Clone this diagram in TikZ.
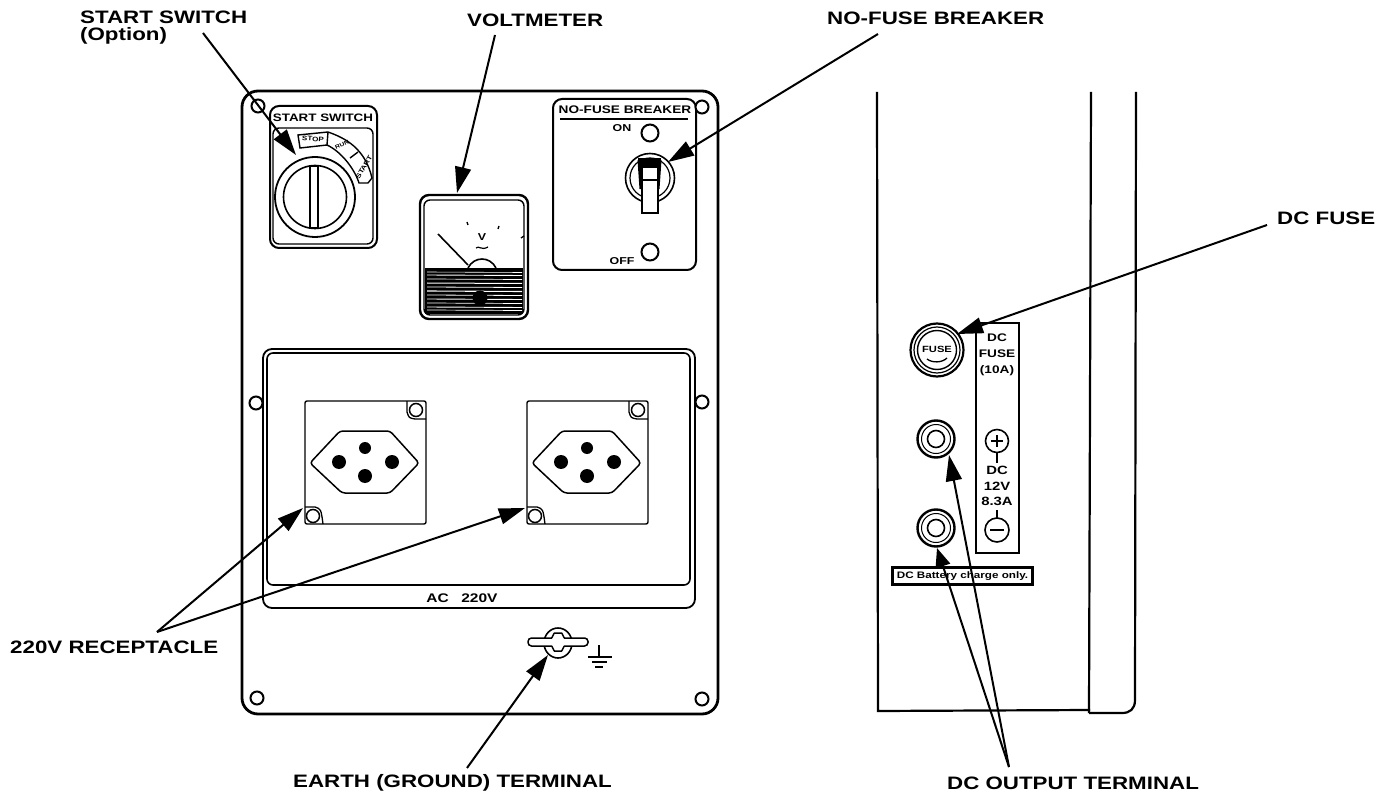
\documentclass[tikz,border=0pt]{standalone}
\usepackage{fontspec}
\setmainfont[FakeStretch=1.24]{Liberation Sans}
\usetikzlibrary{arrows.meta}
\tikzset{
  x=1pt,y=-1pt,
  lab/.style={font=\fontsize{18}{17}\selectfont\bfseries,inner sep=0pt,text=black},
  tiny/.style={font=\fontsize{10}{11}\selectfont\bfseries,inner sep=0pt,align=center},
  hole/.style={circle,draw,line width=2pt,minimum size=13pt,inner sep=0pt,fill=white},
  pin/.style={circle,fill=black,inner sep=0pt},
  thick1/.style={line width=2.8pt},
  thin1/.style={line width=1.4pt},
  leader/.style={line width=2pt,-{Triangle[length=26pt,width=16pt]}},
}
\begin{document}
\begin{tikzpicture}
\useasboundingbox (0,0) rectangle (1390,794);
% Panel
\draw[thick1,rounded corners=16pt] (242,91) rectangle (718,714);
% start switch
\draw[line width=2pt,rounded corners=9pt] (270,106) rectangle (377,248);
\draw[thin1,rounded corners=6pt] (273,128) rectangle (373,244);
\node[tiny] (startlabel) at (323,118) {\fontsize{10.8}{12}\selectfont START SWITCH};
\draw[thin1,fill=white] (298,135) -- (328,132) .. controls (345,138) and (365,148) .. (372,178) -- (368,183) -- (359,183) .. controls (355,170) and (342,152) .. (327,145) -- (300,148) -- cycle;
\draw[thin1] (328,132) -- (327,145) (358,152) -- (350,158);
\node[tiny,rotate=-4] (stop) at (313,139) {\fontsize{6.5}{7}\selectfont STOP};
\node[tiny,rotate=25] (run) at (342,145) {\fontsize{5.5}{6}\selectfont RUN};
\node[tiny,rotate=60] (start) at (364,167) {\fontsize{6.5}{7}\selectfont START};
\node[circle,draw,line width=1.8pt,minimum size=80pt,inner sep=0pt,fill=white] (knob) at (315,197) {};
\node[circle,draw,line width=1.6pt,minimum size=63pt,inner sep=0pt] (knobin) at (315,197) {};
\draw[thin1,fill=white] (310,166) rectangle (318,228);
\node[hole] (h1) at (258,106) {};
% voltmeter
\draw[line width=2.4pt,rounded corners=9pt] (420,195) rectangle (528,319);
\draw[thin1,rounded corners=6pt] (424,200) rectangle (524,315);
\fill (425,268) rectangle (523,314);
\foreach \y/\w in {272/.6,275/.9,279/.7,283/1,287/.8,291/1.1,295/.8,299/.9,303/.7,307/.9,310/.7}{\draw[white,line width=\w pt] (427,\y) -- (522,\y+.5);}
\node[circle,fill=black,minimum size=15pt,inner sep=0pt] (vknob) at (480,298) {};
\draw[line width=1.6pt] (438,234) -- (468,265);
\draw[line width=1.6pt] (468,268) .. controls (474,256) and (490,256) .. (496,268);
\node[tiny] (v) at (482,237) {\fontsize{10}{10}\selectfont V};
\draw[line width=1.2pt] (476,248) .. controls (479,245) and (481,251) .. (488,247);
\draw[line width=1.3pt] (467,222) -- (468,225) (499,226) -- (498,229) (524,236) -- (521,238);
% breaker
\draw[line width=2pt,rounded corners=9pt] (553,99) rectangle (696,270);
\node[tiny] (nfb) at (625,110) {\fontsize{11}{12}\selectfont NO-FUSE BREAKER};
\draw[line width=1.5pt] (560,119) -- (688,119);
\node[tiny] (on) at (622,128) {ON};
\node[hole,minimum size=17pt] (onh) at (650,133) {};
\node[tiny] (off) at (622,261) {OFF};
\node[hole,minimum size=17pt] (offh) at (650,252) {};
\node[hole] (h2) at (702,107) {};
\node[circle,draw,line width=1.6pt,minimum size=49pt,inner sep=0pt] (sw) at (650,178) {};
\node[circle,draw,line width=1.2pt,minimum size=40pt,inner sep=0pt] (sw2) at (650,178) {};
\fill (638,158) -- (661,158) -- (661,167) -- (638,167) -- cycle;
\draw[line width=3pt] (639,160) -- (641,189) (660,160) -- (658,189);
\draw[line width=1.8pt,fill=white] (642,167) -- (658,167) -- (658,213) -- (642,213) -- cycle;
\draw[line width=1.4pt] (642,180) -- (658,180);
% receptacle box
\draw[line width=1.8pt,rounded corners=9pt] (263,349) rectangle (695,608);
\draw[line width=1.6pt,rounded corners=6pt] (267,353) rectangle (690,585);
\node[tiny] (ac) at (462,598) {\fontsize{12.5}{13}\selectfont AC\hspace{1em}220V};
\foreach \n/\x in {a/0,b/222}{
  \begin{scope}[xshift=\x pt]
  \draw[line width=1.4pt,rounded corners=2pt] (305,401) rectangle (426,524);
  \draw[line width=1.3pt] (407,401) -- (407,412) .. controls (409,418) .. (415,419) -- (426,419);
  \node[circle,draw,line width=1.5pt,minimum size=13pt,inner sep=0pt,fill=white] (\n tr) at (416,410) {};
  \draw[line width=1.3pt] (305,507) -- (315,507) .. controls (321,509) .. (323,524);
  \node[circle,draw,line width=1.5pt,minimum size=13pt,inner sep=0pt,fill=white] (\n bl) at (313,516) {};
  \draw[line width=1.5pt,rounded corners=3pt] (310,463) -- (340,431) -- (390,431) -- (419,463) -- (390,493) -- (342,493) -- cycle;
  \node[pin,minimum size=14pt] (\n l) at (339,462) {};
  \node[pin,minimum size=14pt] (\n r) at (392,462) {};
  \node[pin,minimum size=12pt] (\n t) at (365,448) {};
  \node[pin,minimum size=14pt] (\n d) at (365,476) {};
  \end{scope}
}
% corner holes
\node[hole] (h3) at (256,403) {};
\node[hole] (h4) at (702,402) {};
\node[hole] (h5) at (257,698) {};
\node[hole] (h6) at (702,699) {};
% ground
\draw[line width=1.6pt] (558,643) ellipse (14pt and 15pt);
\draw[line width=1.5pt,fill=white,rounded corners=3.5pt] (528,638) -- (548,638) .. controls (552,638) and (554,633) .. (558,633) .. controls (562,633) and (564,638) .. (568,638) -- (588,638) -- (588,646) -- (568,646) .. controls (564,646) and (562,651) .. (558,651) .. controls (554,651) and (552,646) .. (548,646) -- (528,646) -- cycle;
\draw[line width=1.3pt] (599,645) -- (599,657) (588,657) -- (612,657) (592,662) -- (607,662) (595,667) -- (603,667);
% side view
\draw[line width=2.2pt] (877,92) -- (878,711) -- (1090,710);
\draw[line width=2.2pt] (1091,92) -- (1089,713);
\draw[line width=2.2pt] (1136,92) -- (1135,700) .. controls (1135,709) and (1130,713) .. (1122,713) -- (1089,713);
% fuse
\node[circle,draw,line width=2.2pt,minimum size=53pt,inner sep=0pt] (fuse) at (937,350) {};
\node[circle,draw,line width=1.2pt,minimum size=46pt,inner sep=0pt] (fuse2) at (937,350) {};
\node[circle,draw,line width=1.4pt,minimum size=39pt,inner sep=0pt] (fuse3) at (937,350) {};
\node[tiny] (fusetxt) at (937,349) {\fontsize{9}{10}\selectfont FUSE};
\draw[line width=1.3pt] (927,359) .. controls (932,363) and (942,363) .. (947,358);
% DC plate
\draw[line width=1.8pt] (976,323) rectangle (1019,553);
\node[tiny,align=center,font=\fontsize{11}{16}\selectfont\bfseries] (dcf) at (997,355) {DC\\FUSE\\(10A)};
\node[circle,draw,line width=1.6pt,minimum size=23pt,inner sep=0pt] (plus) at (997,441) {};
\draw[line width=1.8pt] (991,441) -- (1003,441) (997,435) -- (997,447);
\node[tiny,align=center,font=\fontsize{12}{16}\selectfont\bfseries] (dc12) at (997,486) {DC\\12V\\[-1.5pt]8.3A};
\node[circle,draw,line width=1.6pt,minimum size=24pt,inner sep=0pt] (minus) at (997,530) {};
\draw[line width=1.8pt] (990,530) -- (1004,530);
\draw[line width=1.3pt] (997,453) -- (997,463) (997,510) -- (997,518);
% DC terminals
\foreach \n/\y in {t1/439,t2/528}{
  \node[circle,draw,line width=2.4pt,minimum size=37pt,inner sep=0pt] (\n) at (936,\y) {};
  \node[circle,draw,line width=1pt,minimum size=29pt,inner sep=0pt] (\n b) at (936,\y) {};
  \node[circle,draw,line width=1.6pt,minimum size=17pt,inner sep=0pt] (\n c) at (936,\y) {};
}
\node[draw,line width=2.2pt,inner sep=0pt,font=\fontsize{9.4}{10}\selectfont\bfseries,minimum width=140pt,minimum height=17pt,fill=white] (batt) at (962.5,576) {DC Battery charge only.};
% labels
\node[lab,align=left,anchor=west] (l1) at (80,28) {START SWITCH\\(Option)};
\node[lab,anchor=west] (l2) at (467,20) {VOLTMETER};
\node[lab,anchor=west] (l3) at (827,18) {NO-FUSE BREAKER};
\node[lab,anchor=west] (l4) at (1277,218) {DC FUSE};
\node[lab,anchor=west] (l5) at (10,647) {220V RECEPTACLE};
\node[lab,anchor=west] (l6) at (293,783) {EARTH (GROUND) TERMINAL};
\node[lab,anchor=west] (l7) at (947,783) {DC OUTPUT TERMINAL};
% leaders
\coordinate (a1s) at (203,33); \coordinate (a1e) at (296,155);
\coordinate (a2s) at (495,35); \coordinate (a2e) at (457,193);
\coordinate (a3s) at (878,34); \coordinate (a3e) at (668,162);
\coordinate (a4s) at (1267,225); \coordinate (a4e) at (957,334);
\coordinate (a5e) at (303,508); \coordinate (a6e) at (525,508);
\coordinate (a5s) at (157,632);
\coordinate (a7e) at (548,655); \coordinate (a7s) at (467,768);
\coordinate (a8e) at (949,455); \coordinate (a8s) at (1009,767);
\coordinate (a9e) at (937,548);
\draw[leader] (a1s) -- (a1e);
\draw[leader] (a2s) -- (a2e);
\draw[leader] (a3s) -- (a3e);
\draw[leader] (a4s) -- (a4e);
\draw[leader] (a5s) -- (a5e);
\draw[leader] (a5s) -- (a6e);
\draw[leader] (a7s) -- (a7e);
\draw[leader] (a8s) -- (a8e);
\draw[line width=2pt,-{Triangle[length=19pt,width=15pt]}] (a8s) -- (a9e);
\end{tikzpicture}
\end{document}
